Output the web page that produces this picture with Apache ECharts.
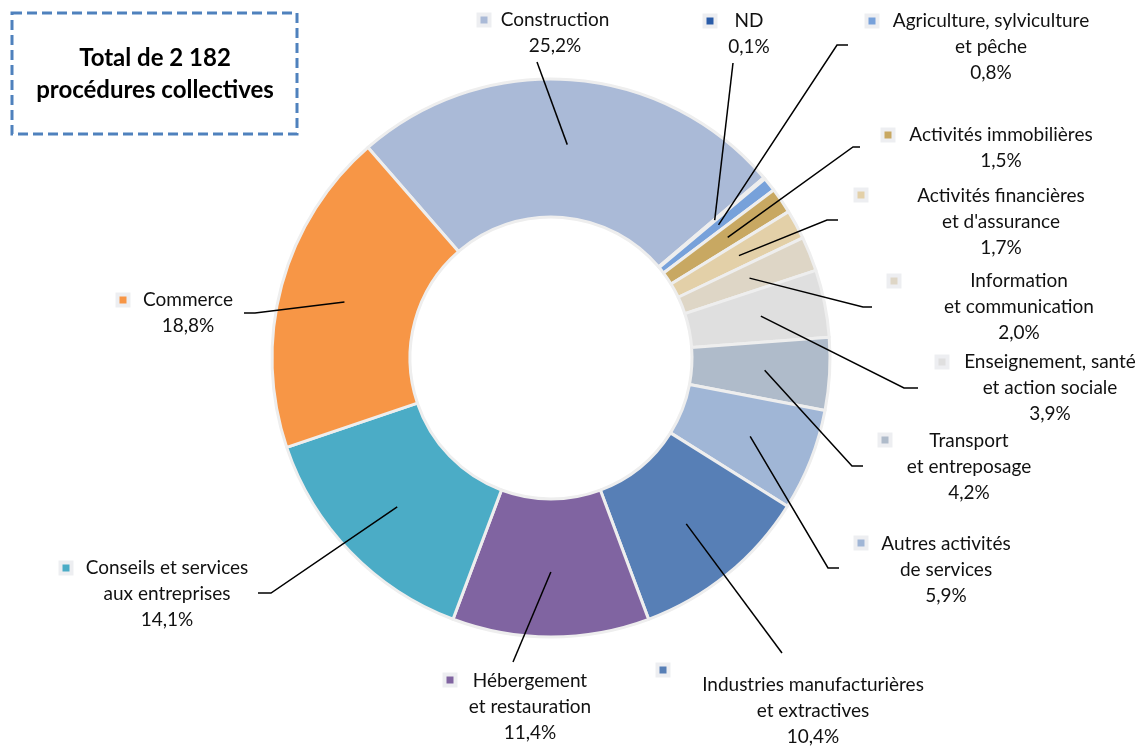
<!DOCTYPE html>
<html><head><meta charset="utf-8">
<script src="https://cdn.jsdelivr.net/npm/echarts@6/dist/echarts.min.js"></script>
<style>html,body{margin:0;padding:0;background:#fff}#c{width:1147px;height:747px}</style>
</head><body><div id="c"></div>
<script>
// ---- data ----
const categories = [
  "Construction",
  "ND",
  "Agriculture, sylviculture\net pêche",
  "Activités immobilières",
  "Activités financières\net d'assurance",
  "Information\net communication",
  "Enseignement, santé\net action sociale",
  "Transport\net entreposage",
  "Autres activités\nde services",
  "Industries manufacturières\net extractives",
  "Hébergement\net restauration",
  "Conseils et services\naux entreprises",
  "Commerce"
];
const shares = [25.2, 0.1, 0.8, 1.5, 1.7, 2.0, 3.9, 4.2, 5.9, 10.4, 11.4, 14.1, 18.8];
const totalText = "Total de 2 182\nprocédures collectives";

// ---- styles / layout ----
const colors = ["#AABAD7","#2A5CA8","#77A1DA","#C8A862","#E3D0A8","#DED6C6","#DFDFDF",
                "#AFBBCA","#A0B6D6","#577FB6","#8064A1","#4BACC6","#F79646"];
const CX = 551, CY = 358, R0 = 141, R1 = 279, START = -41, ANCHOR_R = 214;
// text block centre x, first line centre y, key x, key y, leader line points after anchor
const labelLayouts = [
  {x:555, y:20,  kx:484, ky:20,  line:[[537,62]]},
  {x:749, y:21,  kx:710, ky:21,  line:[[733,63]]},
  {x:991, y:21,  kx:872, ky:21,  line:[[837,45],[848,45]]},
  {x:1001,y:135, kx:888, ky:135, line:[[853,147],[860,147]]},
  {x:1001,y:196, kx:861, ky:195, line:[[827,220],[838,220]]},
  {x:1019,y:281, kx:894, ky:281, line:[[863,307],[872,307]]},
  {x:1050,y:362, kx:942, ky:362, line:[[904,388],[918,388]]},
  {x:969, y:441, kx:885, ky:440, line:[[852,466],[863,466]]},
  {x:946, y:544, kx:861, ky:543, line:[[828,568],[839,568]]},
  {x:813, y:685, kx:663, ky:670, line:[[782,653]]},
  {x:530, y:681, kx:450, ky:680, line:[[513,662]]},
  {x:167, y:568, kx:66,  ky:568, line:[[271,593],[258,593]]},
  {x:188, y:300, kx:123, ky:300, line:[[255,313],[244,313]]}
];

const total = shares.reduce((a, b) => a + b, 0);
const mids = []; let acc = 0;
shares.forEach(v => { mids.push(acc + v / 2); acc += v; });
function anchor(i) {
  const a = (START + 360 * mids[i] / total) * Math.PI / 180;
  return [CX + ANCHOR_R * Math.sin(a), CY - ANCHOR_R * Math.cos(a)];
}
const fmtPct = v => v.toFixed(1).replace('.', ',') + '%';
const pieData = categories.map((n, i) => ({name: n, value: shares[i]}));
const keyRich = {};
colors.forEach((c, i) => {
  keyRich['k' + i] = {width: 7, height: 7, backgroundColor: c, borderColor: '#EDEEF1', borderWidth: 4};
});

const chart = echarts.init(document.getElementById('c'), null, {renderer: 'canvas'});
chart.setOption({
  animation: false,
  color: colors,
  graphic: [
    {type: 'rect', x: 12, y: 13, shape: {x: 0, y: 0, width: 285, height: 121},
     style: {fill: 'none', stroke: '#4F81BD', lineWidth: 3, lineDash: [10, 5]}},
    {type: 'text', x: 155, y: 74,
     style: {text: totalText, fill: '#000', font: 'bold 24px Lato', align: 'center',
             verticalAlign: 'middle', lineHeight: 32}}
  ],
  series: [
    {
      // visible ring + legend keys
      type: 'pie',
      z: 1,
      center: [CX, CY],
      radius: [R0, R1],
      startAngle: 90 - START,
      clockwise: true,
      avoidLabelOverlap: false,
      silent: true,
      itemStyle: {borderColor: '#EEEEEE', borderWidth: 3},
      emphasis: {disabled: true},
      data: pieData,
      label: {show: true, formatter: p => '{k' + p.dataIndex + '|}', rich: keyRich},
      labelLine: {show: false},
      labelLayout: p => {
        const L = labelLayouts[p.dataIndex];
        return {x: L.kx, y: L.ky, align: 'center', verticalAlign: 'middle'};
      }
    },
    {
      // text labels + leader lines drawn above the ring
      type: 'pie',
      z: 3,
      center: [CX, CY],
      radius: [R0, R1],
      startAngle: 90 - START,
      clockwise: true,
      avoidLabelOverlap: false,
      silent: true,
      itemStyle: {color: 'rgba(0,0,0,0)', borderWidth: 0},
      emphasis: {disabled: true},
      data: pieData,
      label: {
        show: true,
        formatter: p => p.name + '\n' + fmtPct(p.value),
        fontFamily: 'Lato', fontSize: 19, lineHeight: 26, color: '#111',
        align: 'center'
      },
      labelLine: {show: true, lineStyle: {color: '#000', width: 1.5}},
      labelLayout: p => {
        const L = labelLayouts[p.dataIndex];
        return {x: L.x, y: L.y - 13, align: 'center', verticalAlign: 'top',
                labelLinePoints: [anchor(p.dataIndex)].concat(L.line)};
      }
    }
  ]
});
</script></body></html>
